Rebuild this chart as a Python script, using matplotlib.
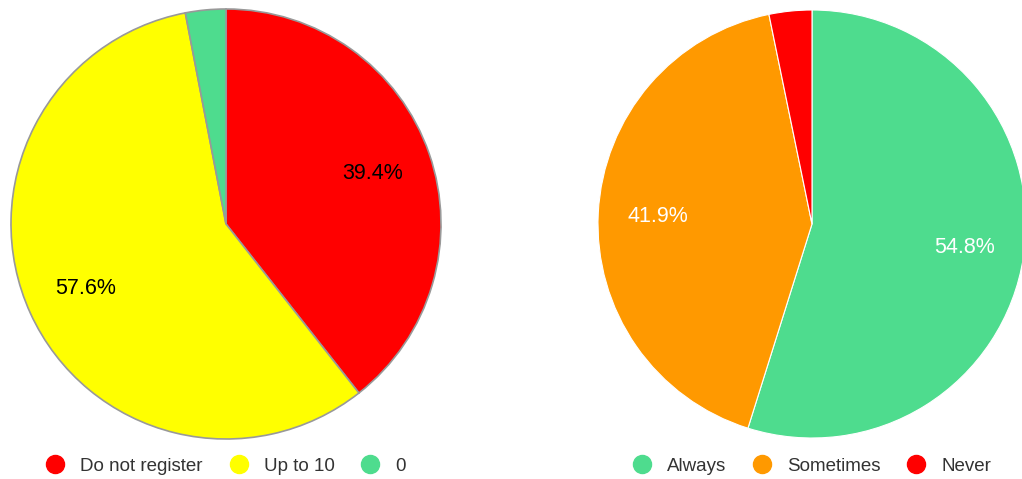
import matplotlib.pyplot as plt
from matplotlib.lines import Line2D

plt.rcParams['font.family'] = ['Liberation Sans', 'DejaVu Sans']

# left chart: registrations
LEFT_LABELS = ["Do not register", "Up to 10", "0"]
LEFT_COUNTS = [13, 19, 1]
LEFT_COLORS = ["#ff0000", "#ffff00", "#4edc8e"]

# right chart: frequency
RIGHT_LABELS = ["Always", "Sometimes", "Never"]
RIGHT_COUNTS = [17, 13, 1]
RIGHT_COLORS = ["#4edc8e", "#ff9900", "#ff0000"]

fig = plt.figure(figsize=(10.22, 4.79), dpi=100)
ax = fig.add_axes([0, 0, 1, 1])
ax.set_xlim(0, 1022)
ax.set_ylim(479, 0)
ax.set_aspect("equal")
ax.axis("off")


def pct(v):
    return f"{v:.1f}%" if v >= 5 else ""


def draw_pie(center, radius, counts, colors, edge, lw, txtcolor):
    # y axis is inverted: -90 is 12 o'clock and counterclock runs clockwise on screen
    wedges, _, autotexts = ax.pie(
        counts, colors=colors, center=center, radius=radius,
        startangle=-90, counterclock=True, autopct=pct, pctdistance=0.72,
        wedgeprops=dict(edgecolor=edge, linewidth=lw),
        textprops=dict(fontsize=15.5, color=txtcolor),
    )
    for w in wedges:
        w.set_clip_on(False)
    return wedges


draw_pie((226, 224), 215, LEFT_COUNTS, LEFT_COLORS, "#999999", 1.2, "#000000")
draw_pie((812, 224), 214, RIGHT_COUNTS, RIGHT_COLORS, "white", 0.8, "white")
ax.set_xlim(0, 1022)
ax.set_ylim(479, 0)


def add_legend(labels, colors, xc):
    handles = [Line2D([], [], marker="o", linestyle="", markersize=13,
                      markerfacecolor=c, markeredgecolor=c) for c in colors]
    fig.legend(handles, labels, loc="center", ncol=len(labels), frameon=False,
               bbox_to_anchor=(xc / 1022, 1 - 466 / 479), fontsize=13.5,
               handlelength=1.0, handletextpad=0.85, columnspacing=1.4,
               labelcolor="#333333")


add_legend(LEFT_LABELS, LEFT_COLORS, 226)
add_legend(RIGHT_LABELS, RIGHT_COLORS, 812)

fig.savefig("out.png", dpi=100)
